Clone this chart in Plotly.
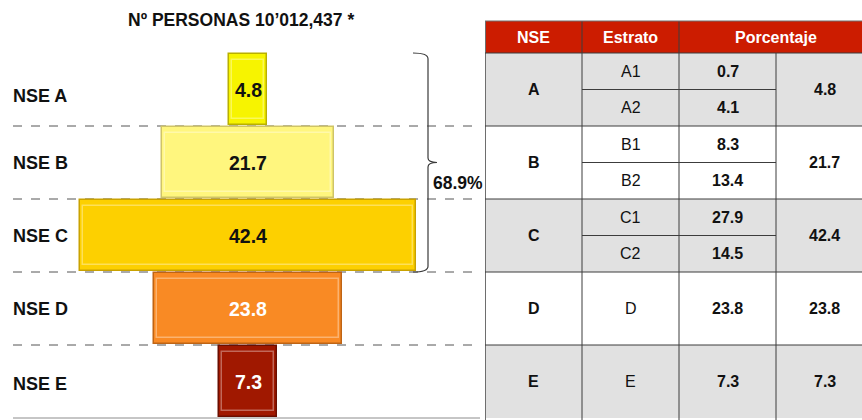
import plotly.graph_objects as go

# ---------------- data ----------------
groups = ["A", "B", "C", "D", "E"]
group_labels = ["NSE A", "NSE B", "NSE C", "NSE D", "NSE E"]
group_values = [4.8, 21.7, 42.4, 23.8, 7.3]
strata = [["A1", "A2"], ["B1", "B2"], ["C1", "C2"], ["D"], ["E"]]
strata_values = [[0.7, 4.1], [8.3, 13.4], [27.9, 14.5], [23.8], [7.3]]
header_labels = ["NSE", "Estrato", "Porcentaje"]
title_text = "Nº PERSONAS 10’012,437 *"
bracket_count = 3  # NSE A + B + C

# ---------------- styles ----------------
bar_colors = ["#F7F400", "#FFF67E", "#FDD000", "#F98A24", "#A01800"]
bar_lines = ["#B9B000", "#CFC466", "#C9A200", "#BF6414", "#6A0E00"]
bar_text_colors = ["#111111", "#111111", "#111111", "#FFFFFF", "#FFFFFF"]
sans = "Liberation Sans, Arial, sans-serif"
W, H = 862, 420
px_row = 73.0
row_top_px = 53.0
y_top = -0.5 - row_top_px / px_row
y_bot = y_top + H / px_row
header_top = -0.5 - (53 - 21) / px_row
left_w = 480
center_px = 248
scale = 336 / 42.4


def px2x(p):
    return (p - center_px) / scale


fig = go.Figure()

fig.add_trace(go.Bar(
    y=list(range(len(groups))),
    x=group_values,
    base=[-v / 2 for v in group_values],
    orientation="h",
    width=0.97,
    marker=dict(color=bar_colors, line=dict(color=bar_lines, width=1.5)),
    hoverinfo="skip",
    showlegend=False,
))

# bevel highlight (inner outline, derived from the same values)
inset = 6 / scale
fig.add_trace(go.Bar(
    y=list(range(len(groups))),
    x=[v - inset for v in group_values],
    base=[-(v - inset) / 2 for v in group_values],
    orientation="h",
    width=0.82,
    marker=dict(color="rgba(0,0,0,0)", line=dict(color="rgba(255,255,255,0.35)", width=1.5)),
    hoverinfo="skip",
    showlegend=False,
))

# invisible trace to bring the table axis to life
fig.add_trace(go.Scatter(x=[0], y=[0], xaxis="x2", yaxis="y", mode="markers",
                         marker=dict(opacity=0), hoverinfo="skip", showlegend=False))

shapes = []
annotations = []

# row separators on the left side
for i in range(len(groups)):
    yb = i + 0.5
    last = i == len(groups) - 1
    shapes.append(dict(type="line", xref="paper", yref="y",
                       x0=13 / W, x1=left_w / W, y0=yb, y1=yb, layer="below",
                       line=dict(color="#8C8C8C" if last else "#555555", width=1,
                                 dash="solid" if last else "dash")))

# labels, values
label_dy = [0.09, 0, 0, 0, 0.03]
for i, (lab, v) in enumerate(zip(group_labels, group_values)):
    annotations.append(dict(xref="paper", yref="y", x=11 / W, y=i + label_dy[i], text=lab,
                            xanchor="left", yanchor="middle", showarrow=False,
                            font=dict(family=sans, size=18, color="#111111", weight="bold")))
    annotations.append(dict(xref="x", yref="y", x=0, y=i, text=f"{v:.1f}",
                            xanchor="center", yanchor="middle", showarrow=False,
                            font=dict(family=sans, size=19.5, color=bar_text_colors[i], weight="bold")))

# title
annotations.append(dict(xref="paper", yref="paper", x=241 / W, y=1 - 20 / H, text=title_text,
                        xanchor="center", yanchor="middle", showarrow=False,
                        font=dict(family=sans, size=17.5, color="#111111", weight="bold")))

# bracket for top groups
xl = px2x(428)
xs = px2x(413)
xt = px2x(437)
yt, yb = -0.5, bracket_count - 0.5
ym = (yt + yb) / 2
path = (f"M {xs},{yt} Q {xl},{yt} {xl},{yt + 0.08} L {xl},{ym - 0.06} "
        f"Q {xl},{ym} {xt},{ym} Q {xl},{ym} {xl},{ym + 0.06} L {xl},{yb - 0.08} "
        f"Q {xl},{yb} {xs},{yb}")
shapes.append(dict(type="path", xref="x", yref="y", path=path,
                   line=dict(color="#3A3A3A", width=1.2)))
annotations.append(dict(xref="x", yref="y", x=px2x(431), y=ym + 0.28,
                        text=f"{sum(group_values[:bracket_count]):.1f}%",
                        xanchor="left", yanchor="middle", showarrow=False,
                        font=dict(family=sans, size=17.5, color="#111111", weight="bold")))

# ---------------- table ----------------
col_w = 97.0
grid = "#3C3C3C"
shapes.append(dict(type="rect", xref="x2", yref="y", x0=0, x1=4, y0=header_top, y1=-0.5,
                   fillcolor="#CC1C00", line=dict(width=0), layer="below"))
for i in range(len(groups)):
    shapes.append(dict(type="rect", xref="x2", yref="y", x0=0, x1=4, y0=i - 0.5, y1=i + 0.5,
                       fillcolor="#E1E1E1" if i % 2 == 0 else "#FFFFFF",
                       line=dict(width=0), layer="below"))
# vertical lines
for c in [0, 1, 2]:
    shapes.append(dict(type="line", xref="x2", yref="y", x0=c, x1=c, y0=header_top, y1=y_bot,
                       line=dict(color="#6E6E6E" if c == 0 else grid, width=2 if c == 0 else 1)))
shapes.append(dict(type="line", xref="x2", yref="y", x0=3, x1=3, y0=-0.5, y1=y_bot,
                   line=dict(color=grid, width=1)))
# horizontal lines
for yv in [header_top, -0.5] + [i + 0.5 for i in range(len(groups) - 1)]:
    shapes.append(dict(type="line", xref="x2", yref="y", x0=0, x1=4, y0=yv, y1=yv,
                       line=dict(color="#6E6E6E" if yv == header_top else grid, width=1)))

# header text
hy = (header_top - 0.5) / 2
for x, t in zip([0.5, 1.5, 3.0], header_labels):
    annotations.append(dict(xref="x2", yref="y", x=x, y=hy, text=t, showarrow=False,
                            xanchor="center", yanchor="middle",
                            font=dict(family=sans, size=16, color="#FFFFFF", weight="bold")))

cell_font = dict(family=sans, size=16, color="#111111")
for i, g in enumerate(groups):
    annotations.append(dict(xref="x2", yref="y", x=0.5, y=i, text=g, showarrow=False,
                            font=dict(**cell_font, weight="bold")))
    annotations.append(dict(xref="x2", yref="y", x=3.5, y=i, text=f"{group_values[i]:.1f}",
                            showarrow=False, font=dict(**cell_font, weight="bold")))
    n = len(strata[i])
    for k, (s, sv) in enumerate(zip(strata[i], strata_values[i])):
        yc = i - 0.5 + (k + 0.5) / n
        annotations.append(dict(xref="x2", yref="y", x=1.5, y=yc, text=s, showarrow=False,
                                font=cell_font))
        annotations.append(dict(xref="x2", yref="y", x=2.5, y=yc, text=f"{sv:.1f}",
                                showarrow=False, font=dict(**cell_font, weight="bold")))
    if n > 1:
        for k in range(1, n):
            ys = i - 0.5 + k / n
            shapes.append(dict(type="line", xref="x2", yref="y", x0=1, x1=3, y0=ys, y1=ys,
                               line=dict(color=grid, width=1)))

fig.update_layout(
    width=W, height=H,
    margin=dict(l=0, r=0, t=0, b=0),
    paper_bgcolor="#FFFFFF", plot_bgcolor="rgba(0,0,0,0)",
    xaxis=dict(domain=[0, left_w / W], range=[px2x(0), px2x(left_w)], visible=False,
               fixedrange=True),
    xaxis2=dict(domain=[485 / W, 1], range=[0, (W - 485) / col_w], visible=False,
                anchor="y", fixedrange=True),
    yaxis=dict(range=[y_bot, y_top], visible=False, fixedrange=True),
    shapes=shapes,
    annotations=annotations,
    barmode="overlay",
    bargap=0,
)

fig.write_html("out.html", config={"displayModeBar": False},
               post_script="document.body.style.margin='0';document.body.style.overflow='hidden';")
